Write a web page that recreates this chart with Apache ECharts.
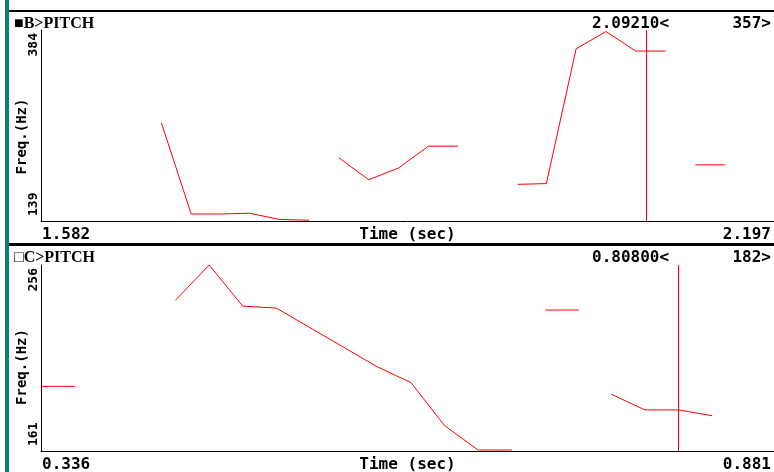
<!DOCTYPE html>
<html>
<head>
<meta charset="utf-8">
<script src="https://cdn.jsdelivr.net/npm/echarts@6/dist/echarts.min.js"></script>
<style>
  html, body { margin: 0; padding: 0; background: #ffffff; }
  #chart { width: 774px; height: 472px; }
</style>
</head>
<body>
<div id="chart"></div>
<script>
// Channel B pitch track: frame times (s), F0 (Hz), voiced-segment id (0 = unvoiced)
const bTime = [1.683, 1.708, 1.733, 1.757, 1.782, 1.807, 1.832, 1.857, 1.882, 1.907,
               1.932, 1.957, 1.982, 2.006, 2.031, 2.056, 2.081, 2.106, 2.131, 2.156];
const bFreq = [265, 148, 148, 149, 141, 140, 220, 192, 207, 235,
               235, null, 186, 187, 360, 382, 357, 357, 211, 211];
const bSeg  = [1, 1, 1, 1, 1, 1, 2, 2, 2, 2,
               2, 0, 3, 3, 3, 3, 3, 3, 4, 4];
const bTimeRange = [1.582, 2.197];
const bFreqRange = [139, 384];
const bCursorTime = 2.0921;
const bCursorFreq = 357;

// Channel C pitch track
const cTime = [0.336, 0.361, 0.436, 0.461, 0.486, 0.511, 0.536, 0.561, 0.586, 0.611,
               0.636, 0.661, 0.686, 0.711, 0.736, 0.760, 0.785, 0.810, 0.835];
const cFreq = [194, 194, 238, 256, 235, 234, 224, 214, 204, 196,
               174, 161.5, 161.5, 233, 233, 190, 182, 182, 179];
const cSeg  = [1, 1, 2, 2, 2, 2, 2, 2, 2, 2,
               2, 2, 2, 3, 3, 4, 4, 4, 4];
const cTimeRange = [0.336, 0.881];
const cFreqRange = [161, 256];
const cCursorTime = 0.808;
const cCursorFreq = 182;

const panelNames = ['B>PITCH', 'C>PITCH'];
const timeAxisName = 'Time (sec)';
const freqAxisName = 'Freq.(Hz)';

const RED = '#ff0000';
const MONO = '"DejaVu Sans Mono", monospace';

// Split a track into one line series per voiced segment
function trackSeries(times, freqs, segs, axisIndex) {
  const groups = new Map();
  times.forEach((t, i) => {
    if (!segs[i] || freqs[i] == null) return;
    if (!groups.has(segs[i])) groups.set(segs[i], []);
    groups.get(segs[i]).push([t, freqs[i]]);
  });
  return Array.from(groups.values()).map(points => ({
    type: 'line',
    xAxisIndex: axisIndex,
    yAxisIndex: axisIndex,
    data: points,
    symbol: 'none',
    silent: true,
    lineStyle: { color: RED, width: 1 },
    itemStyle: { color: RED }
  }));
}

function cursorSeries(time, axisIndex) {
  return {
    type: 'line',
    xAxisIndex: axisIndex,
    yAxisIndex: axisIndex,
    data: [],
    markLine: {
      silent: true,
      symbol: ['none', 'none'],
      label: { show: false },
      lineStyle: { color: RED, width: 1, type: 'solid' },
      data: [{ xAxis: time }]
    }
  };
}

function timeAxis(range, gridIndex) {
  return {
    type: 'value',
    gridIndex,
    min: range[0],
    max: range[1],
    axisLine: { show: true, lineStyle: { color: '#000', width: 1 } },
    axisTick: { show: false },
    splitLine: { show: false },
    axisLabel: {
      margin: 6,
      color: '#000',
      fontFamily: MONO,
      fontWeight: 'bold',
      fontSize: 16,
      padding: [0, 3, 0, 1],
      alignMinLabel: 'left',
      alignMaxLabel: 'right',
      formatter: v => (v === range[0] || v === range[1]) ? v.toFixed(3) : ''
    },
    name: timeAxisName,
    nameLocation: 'middle',
    nameGap: 6,
    nameMoveOverlap: false,
    nameTextStyle: { color: '#000', fontFamily: MONO, fontWeight: 'bold', fontSize: 16 }
  };
}

function freqAxis(range, gridIndex, namePad) {
  return {
    type: 'value',
    gridIndex,
    min: range[0],
    max: range[1],
    axisLine: { show: true, lineStyle: { color: '#000', width: 1 } },
    axisTick: { show: false },
    splitLine: { show: false },
    axisLabel: {
      rotate: 90,
      margin: 1,
      color: '#000',
      fontFamily: MONO,
      fontWeight: 'bold',
      fontSize: 13,
      padding: [0, 3, 0, 5],
      alignMinLabel: 'left',
      alignMaxLabel: 'right',
      formatter: v => (v === range[0] || v === range[1]) ? String(v) : ''
    },
    name: freqAxisName,
    nameLocation: 'middle',
    nameRotate: 90,
    nameGap: 12,
    nameMoveOverlap: false,
    nameTextStyle: {
      color: '#000', fontFamily: MONO, fontWeight: 'bold', fontSize: 14,
      padding: [0, namePad, 0, 0]
    }
  };
}

function headerText(x, y, text, align, font) {
  return {
    type: 'text',
    silent: true,
    style: {
      x, y, text,
      fill: '#000',
      font,
      textAlign: align,
      textVerticalAlign: 'middle'
    }
  };
}

const chart = echarts.init(document.getElementById('chart'), null, { renderer: 'canvas' });

chart.setOption({
  animation: false,
  backgroundColor: '#ffffff',
  grid: [
    { left: 41, top: 30, right: 0, height: 191, containLabel: false, outerBoundsMode: 'none' },
    { left: 41, top: 265, right: 0, height: 186, containLabel: false, outerBoundsMode: 'none' }
  ],
  xAxis: [timeAxis(bTimeRange, 0), timeAxis(cTimeRange, 1)],
  yAxis: [freqAxis(bFreqRange, 0, 22), freqAxis(cFreqRange, 1, 18)],
  series: [
    ...trackSeries(bTime, bFreq, bSeg, 0),
    cursorSeries(bCursorTime, 0),
    ...trackSeries(cTime, cFreq, cSeg, 1),
    cursorSeries(cCursorTime, 1)
  ],
  graphic: [
    // window frame
    { type: 'rect', silent: true, shape: { x: 5, y: 0, width: 4, height: 472 }, style: { fill: '#0b7f80' } },
    { type: 'rect', silent: true, shape: { x: 9, y: 10, width: 765, height: 2 }, style: { fill: '#000' } },
    { type: 'rect', silent: true, shape: { x: 9, y: 243, width: 765, height: 3 }, style: { fill: '#000' } },
    // panel headers
    headerText(14, 24, '\u25A0' + panelNames[0], 'left', 'bold 16px "Liberation Serif", serif'),
    headerText(592, 24, bCursorTime.toFixed(5) + '<', 'left', 'bold 16px ' + MONO),
    headerText(771, 24, bCursorFreq + '>', 'right', 'bold 16px ' + MONO),
    headerText(14, 258, '\u25A1' + panelNames[1], 'left', 'bold 16px "Liberation Serif", serif'),
    headerText(592, 258, cCursorTime.toFixed(5) + '<', 'left', 'bold 16px ' + MONO),
    headerText(771, 258, cCursorFreq + '>', 'right', 'bold 16px ' + MONO)
  ]
});
</script>
</body>
</html>
